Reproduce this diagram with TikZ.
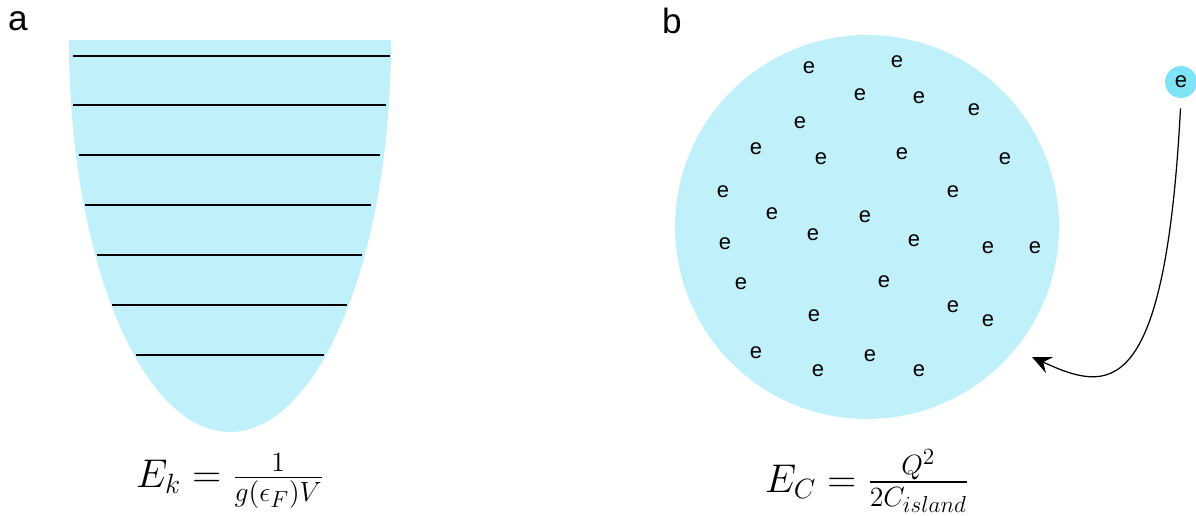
\documentclass[tikz,border=0pt]{standalone}
\usepackage{amsmath,amssymb}
\usepackage{fontspec}
\setsansfont{Liberation Sans}
\usetikzlibrary{arrows.meta}
\definecolor{island}{HTML}{C0F1FA}
\definecolor{freecol}{HTML}{7EE3F5}
\newcommand{\bigeq}[1]{\scalebox{1.1}{#1}}
\tikzset{
  level/.style={line width=1.2pt, line cap=butt},
  elec/.style={inner sep=0pt, font=\sffamily\fontsize{12.5}{15}\selectfont},
  panel/.style={inner sep=0pt, font=\sffamily\fontsize{20}{24}\selectfont},
  formula/.style={inner sep=0pt, font=\fontsize{20.74}{25}\selectfont},
}
\begin{document}
\begin{tikzpicture}[x=0.02cm, y=-0.02cm, line join=round]
\useasboundingbox (0,0) rectangle (1196,516);
\coordinate (T) at (230,41);
\coordinate (O) at (867,227);
\coordinate (land) at (1032,357);
\begin{scope}
\clip (60,41) rectangle (400,440);
\fill[island] (T) ellipse [x radius=161, y radius=391];
\end{scope}
\draw[level] (73,56) -- (390,56);
\draw[level] (73,105) -- (386,105);
\draw[level] (79,155) -- (380,155);
\draw[level] (85,205) -- (371,205);
\draw[level] (97,255) -- (362,255);
\draw[level] (112,305) -- (347,305);
\draw[level] (136,355) -- (324,355);
\fill[island] (O) circle [radius=192];
\foreach \px/\py [count=\i] in {809/68, 897/62, 860/95, 919/98, 974/110, 800/123,
  756/149, 821/159, 902/154, 1005/159, 723/192, 953/192, 772/214, 865/217,
  725/244, 813/235, 914/241, 988/248, 1035/248, 741/284, 884/282, 814/316,
  953/307, 988/321, 756/353, 870/356, 818/371, 919/371}
  \node[elec] (e\i) at (\px,\py) {e};
\node[elec, circle, fill=freecol, minimum size=0.64cm] (efree) at (1181,82) {e};
\draw[line width=0.7pt, -{Stealth[length=11pt, width=10pt, inset=4pt]}, shorten <=0.2cm]
  (efree.south) .. controls (1165,405) and (1108,392) .. (land);
\node[panel] (lbla) at (18,21) {a};
\node[panel] (lblb) at (672,21) {b};
\node[formula] (ek) at (230,481) {\bigeq{$E_k = \frac{1}{g(\epsilon_F)V}$}};
\node[formula] (ec) at (867,481) {\bigeq{$E_C = \frac{Q^2}{2C_{island}}$}};
\end{tikzpicture}
\end{document}
